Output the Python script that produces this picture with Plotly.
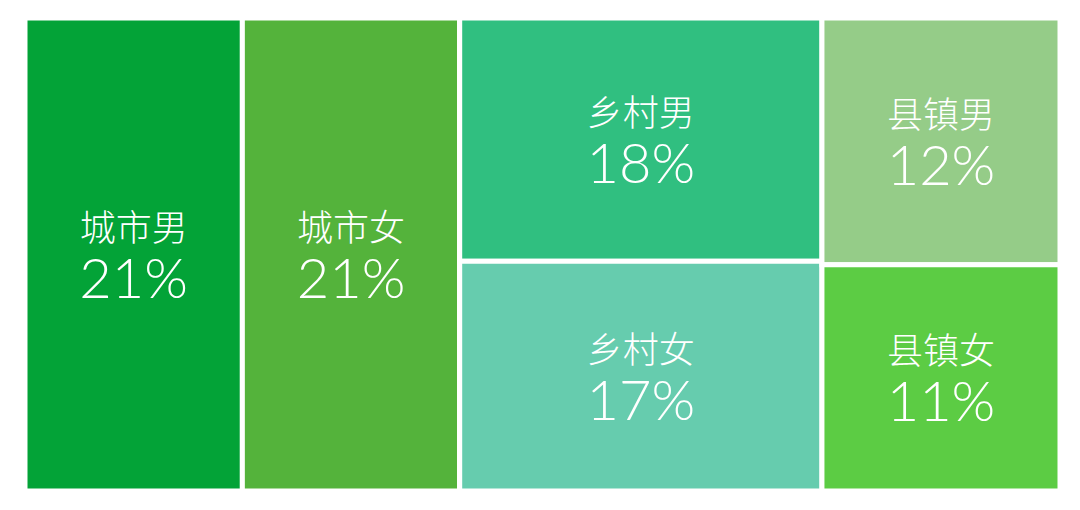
import plotly.graph_objects as go

# leaf data
groups = ["城市", "乡村", "县镇"]
ids = ["城市男", "城市女", "乡村", "乡村男", "乡村女", "县镇", "县镇男", "县镇女"]
parents = ["", "", "", "乡村", "乡村", "", "县镇", "县镇"]
shares = [21, 21, 0, 18, 17, 0, 12, 11]
colors = ["#03A337", "#54B33B", "#30BF80", "#30BF80", "#66CCAE", "#95CC88", "#95CC88", "#5CCC44"]

labels_text = []
for i, s in zip(ids, shares):
    if i in groups:
        labels_text.append("")
    else:
        labels_text.append(
            f"<span style='font-size:36px'>{i}</span><br>"
            f"<span style='font-size:56px;font-family:Lato;font-weight:300'>{s}%</span>"
        )

fig = go.Figure(go.Treemap(
    ids=ids,
    labels=ids,
    parents=parents,
    values=shares,
    branchvalues="remainder",
    sort=False,
    text=labels_text,
    textinfo="text",
    textposition="middle center",
    textfont=dict(family="Noto Sans CJK SC", size=44, color="white", weight=300),
    marker=dict(colors=colors, line=dict(color="white", width=5),
                pad=dict(t=0, l=0, r=0, b=0)),
    tiling=dict(packing="slice-dice", pad=0),
    pathbar=dict(visible=False),
    root=dict(color="white"),
    hovertemplate="%{label}: %{value}%<extra></extra>",
))

fig.update_layout(
    margin=dict(l=17, r=12, t=10, b=11),
    paper_bgcolor="white",
)

fig.write_html("out.html")
